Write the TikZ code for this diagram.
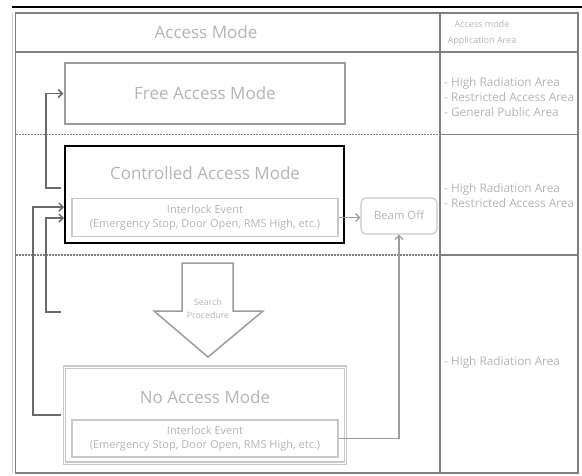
\documentclass[tikz,border=0pt]{standalone}
\usepackage{fontspec}
\setmainfont{Open Sans}
\usetikzlibrary{arrows.meta}
\definecolor{txt}{HTML}{B4B4B4}
\definecolor{tline}{HTML}{808080}
\definecolor{cg}{HTML}{6A6A6A}
\definecolor{lgb}{HTML}{C8C8C8}
\definecolor{fb}{HTML}{9C9C9C}
\begin{document}
\begin{tikzpicture}[x=1pt,y=-1pt,
  lbl/.style={text=txt, inner sep=0pt, align=center},
  big/.style={lbl, font=\fontsize{17}{20}\selectfont},
  small/.style={lbl, font=\fontsize{11}{14}\selectfont},
  lst/.style={text=txt, inner sep=0pt, align=left, anchor=west, font=\fontsize{11.8}{15}\selectfont},
  conn/.style={draw=cg, line width=1.5pt, -{Straight Barb[length=4pt,width=8pt]}},
  connl/.style={draw=fb, line width=1.2pt, -{Straight Barb[length=4pt,width=8pt]}},
  rowdash/.style={draw=tline, line width=1.1pt, dash pattern=on 2pt off 1pt}]
\useasboundingbox (0,0) rectangle (582,475);
% frame
\draw[line width=2.5pt] (12,7) -- (582,7);
\draw[draw=gray!35, line width=1pt] (12.5,13) -- (12.5,473);
\draw[draw=tline, line width=1.3pt] (15.5,13) rectangle (578,473);
\draw[draw=tline, line width=1.3pt] (15.5,52) -- (578,52);
\draw[draw=tline, line width=1.3pt] (440,13) -- (440,473);
\draw[rowdash] (15.5,134.5) -- (440,134.5);
\draw[rowdash] (15.5,255) -- (440,255);
\draw[draw=tline, line width=1.3pt] (440,134.5) -- (578,134.5);
\draw[draw=tline, line width=1.3pt] (440,255) -- (578,255);
% headers
\node[big] (hmode) at (206,32) {Access Mode};
\node[lbl, font=\fontsize{9}{15.5}\selectfont] (harea) at (482,33) {Access mode\\Application Area};
% right column lists
\node[lst] (l1) at (444,97.5) {- High Radiation Area\\- Restricted Access Area\\- General Public Area};
\node[lst] (l2) at (444,195.5) {- High Radiation Area\\- Restricted Access Area};
\node[lst] (l3) at (444,362) {- High Radiation Area};
% boxes
\node[draw=fb, line width=1.4pt, minimum width=280pt, minimum height=61pt, inner sep=0pt] (free) at (205,93.5) {};
\node[big] (freet) at (205,93) {Free Access Mode};
\node[draw=black, line width=2pt, minimum width=279pt, minimum height=97pt, inner sep=0pt] (ctrl) at (204.5,194.5) {};
\node[big] (ctrlt) at (205,173.5) {Controlled Access Mode};
\node[draw=lgb, line width=1.2pt, minimum width=266pt, minimum height=38pt, inner sep=0pt] (ci) at (205,217.5) {};
\node[small] (cit) at (205,218) {Interlock Event\\(Emergency Stop, Door Open, RMS High, etc.)};
\node[draw=lgb, line width=1.2pt, rounded corners=5pt, minimum width=76pt, minimum height=36pt, inner sep=0pt] (beam) at (399,216) {};
\node[lbl, font=\fontsize{11.3}{14}\selectfont] (beamt) at (399,215) {Beam Off};
\node[draw=lgb, line width=1.4pt, double=white, double distance=0.8pt, minimum width=281pt, minimum height=96pt, inner sep=0pt] (na) at (205,415) {};
\node[big] (nat) at (205,397) {No Access Mode};
\node[draw=lgb, line width=1.2pt, minimum width=266pt, minimum height=37pt, inner sep=0pt] (ni) at (205,438.5) {};
\node[small] (nit) at (205,439) {Interlock Event\\(Emergency Stop, Door Open, RMS High, etc.)};
% search arrow
\draw[draw=fb, line width=1.5pt, line join=miter] (182,263) -- (233,263) -- (233,311) -- (263,311) -- (208,357) -- (154,311) -- (182,311) -- cycle;
\node[lbl, font=\fontsize{8.8}{13}\selectfont] (search) at (208,308.5) {Search\\Procedure};
% connectors
\coordinate (sa) at (61,188);
\coordinate (sb) at (61,312);
\coordinate (sc) at (61,415);
\coordinate (tb) at (65,218);
\coordinate (tc) at (65,207);
\draw[conn, shorten >=1pt] (sa) -- (46,188) |- (free.west);
\draw[conn, shorten >=1pt] (sb) -- (46,312) |- (tb);
\draw[conn, shorten >=1pt] (sc) -- (33,415) |- (tc);
\draw[connl] (ci.east) -- (beam.west |- ci.east);
\draw[connl] (ni.east) -| (beam.south);
\end{tikzpicture}
\end{document}
